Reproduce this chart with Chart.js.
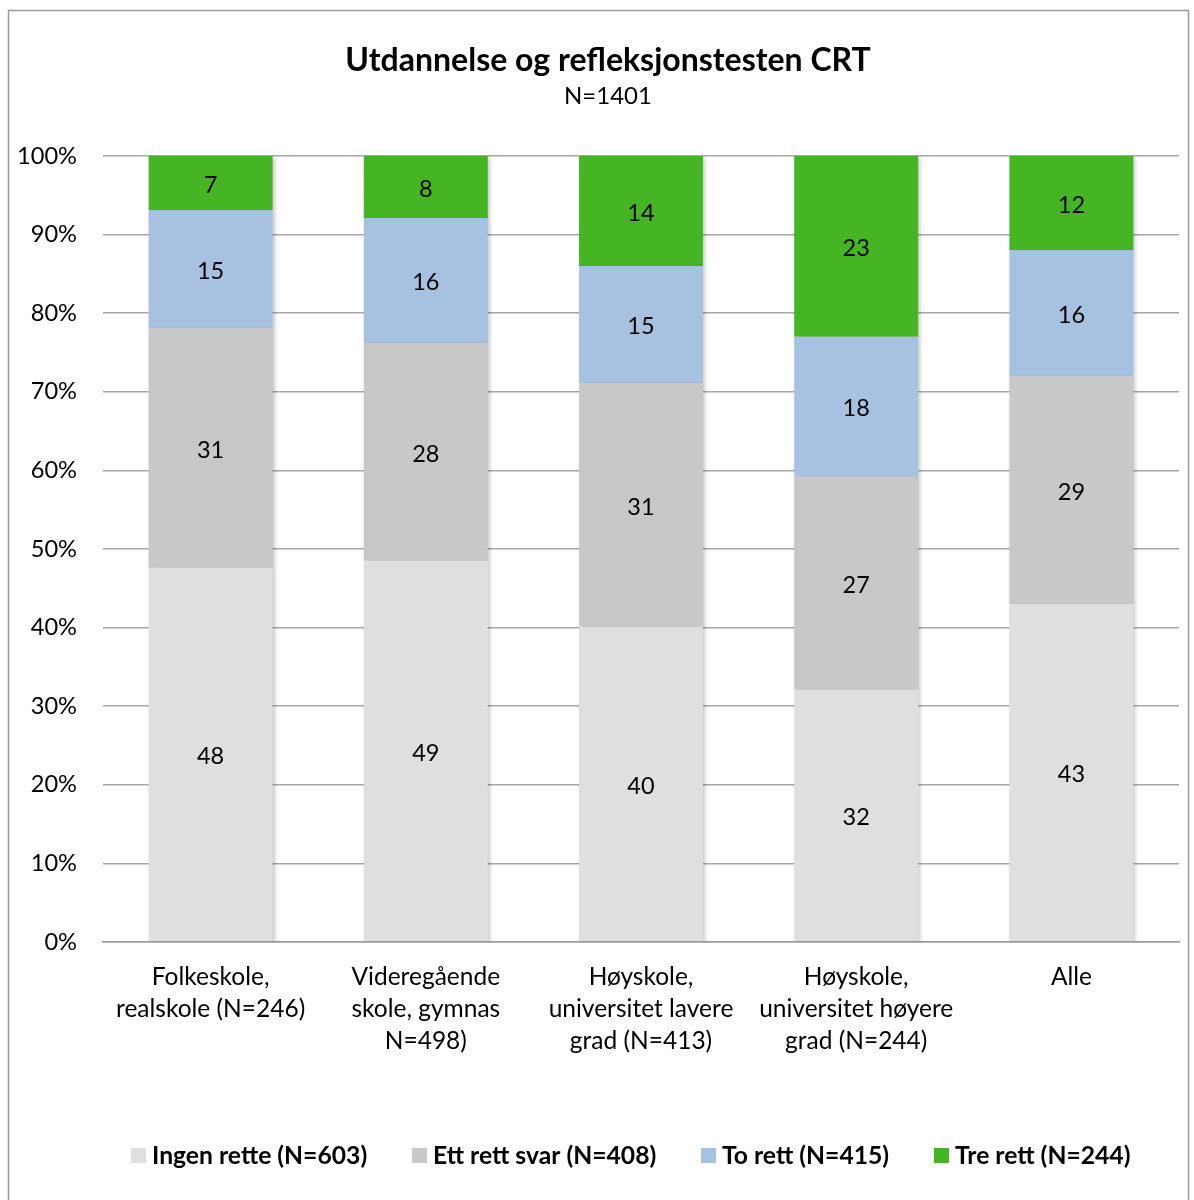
<!DOCTYPE html>
<html>
<head>
<meta charset="utf-8">
<script src="https://cdn.jsdelivr.net/npm/chart.js@4"></script>
<style>
  html, body { margin: 0; padding: 0; background: #fff; }
  #wrap { width: 1194px; height: 1200px; }
</style>
</head>
<body>
<div id="wrap"><canvas id="myChart" width="1194" height="1200"></canvas></div>
<script>
const categories = [
  ['Folkeskole,', 'realskole (N=246)'],
  ['Videregående', 'skole, gymnas', 'N=498)'],
  ['Høyskole,', 'universitet lavere', 'grad (N=413)'],
  ['Høyskole,', 'universitet høyere', 'grad (N=244)'],
  ['Alle']
];
const seriesNames = ['Ingen rette (N=603)', 'Ett rett svar (N=408)', 'To rett (N=415)', 'Tre rett (N=244)'];
// andel i prosent, lest av figuren
const ingenRette = [47.6, 48.5, 40.1, 32.1, 43.0];
const ettRett = [30.5, 27.7, 31.0, 27.1, 29.0];
const toRett = [15.0, 15.9, 14.9, 17.8, 16.0];
const treRett = [6.9, 7.9, 14.0, 23.0, 12.0];
const yTicks = [0, 10, 20, 30, 40, 50, 60, 70, 80, 90, 100];

const colors = ['#dfdfdf', '#c8c8c8', '#a7c1e0', '#45b523'];
const FONT = 'Lato';

// tittel, ramme, tall i stolpene og forklaring
const extras = {
  id: 'extras',
  beforeDraw(chart) {
    const c = chart.ctx;
    c.save();
    c.fillStyle = '#fff';
    c.fillRect(0, 0, chart.width, chart.height);
    c.strokeStyle = '#9a9a9a';
    c.lineWidth = 1.5;
    c.strokeRect(8.5, 10.5, 1180, 1200);
    c.restore();
  },
  beforeDatasetsDraw(chart) {
    const c = chart.ctx;
    c.save();
    c.shadowColor = 'rgba(0,0,0,0.22)';
    c.shadowBlur = 4;
    c.shadowOffsetX = 2;
    c.shadowOffsetY = 2;
  },
  afterDatasetsDraw(chart) {
    const c = chart.ctx;
    c.restore();
    c.save();
    c.fillStyle = '#000';
    c.font = '23.5px ' + FONT;
    c.textAlign = 'center';
    c.textBaseline = 'middle';
    chart.data.datasets.forEach((ds, i) => {
      chart.getDatasetMeta(i).data.forEach((bar, j) => {
        const p = bar.getProps(['x', 'y', 'base'], true);
        c.fillText(String(Math.round(ds.data[j])), p.x, (p.y + p.base) / 2 + 2);
      });
    });
    c.restore();
  },
  afterDraw(chart) {
    const c = chart.ctx;
    c.save();
    c.fillStyle = '#000';
    c.textAlign = 'center';
    c.textBaseline = 'middle';
    c.font = 'bold 32px ' + FONT;
    c.fillText('Utdannelse og refleksjonstesten CRT', 608, 61);
    c.font = '24px ' + FONT;
    c.fillText('N=1401', 608, 96);

    // forklaring
    const pos = [131, 412, 701, 934];
    c.font = 'bold 24.7px ' + FONT;
    c.textAlign = 'left';
    chart.data.datasets.forEach((ds, i) => {
      c.fillStyle = ds.backgroundColor;
      c.fillRect(pos[i], 1148, 15, 15);
      c.fillStyle = '#000';
      c.fillText(ds.label, pos[i] + 21, 1156);
    });
    c.restore();
  }
};

const ctx = document.getElementById('myChart').getContext('2d');
const myChart = new Chart(ctx, {
  type: 'bar',
  data: {
    labels: categories,
    datasets: [
      { label: seriesNames[0], data: ingenRette, backgroundColor: colors[0] },
      { label: seriesNames[1], data: ettRett, backgroundColor: colors[1] },
      { label: seriesNames[2], data: toRett, backgroundColor: colors[2] },
      { label: seriesNames[3], data: treRett, backgroundColor: colors[3] },
    ],
  },
  options: {
    responsive: false,
    animation: false,
    layout: { padding: { top: 156, right: 15, left: 0, bottom: 0 } },
    datasets: { bar: { barPercentage: 0.576, categoryPercentage: 1, borderWidth: 0 } },
    plugins: {
      legend: { display: false },
      title: { display: false },
      tooltip: { enabled: false },
    },
    scales: {
      x: {
        stacked: true,
        grid: { display: false, drawTicks: false },
        border: { display: true, color: '#9a9a9a', width: 1.5 },
        ticks: {
          color: '#000',
          font: { family: FONT, size: 24.5, lineHeight: 1.31 },
          padding: 19,
          maxRotation: 0,
          autoSkip: false,
        },
        afterFit(scale) { scale.height = 258; },
      },
      y: {
        stacked: true,
        min: 0,
        max: 100,
        afterBuildTicks(scale) { scale.ticks = yTicks.map(v => ({ value: v })); },
        grid: { color: '#a6a6a6', lineWidth: 1.5, drawTicks: false },
        border: { display: false },
        ticks: {
          color: '#000',
          font: { family: FONT, size: 23.6 },
          padding: 26,
          callback: v => v + '%',
        },
        afterFit(scale) { scale.width = 103; },
      },
    },
  },
  plugins: [extras],
});
</script>
</body>
</html>
